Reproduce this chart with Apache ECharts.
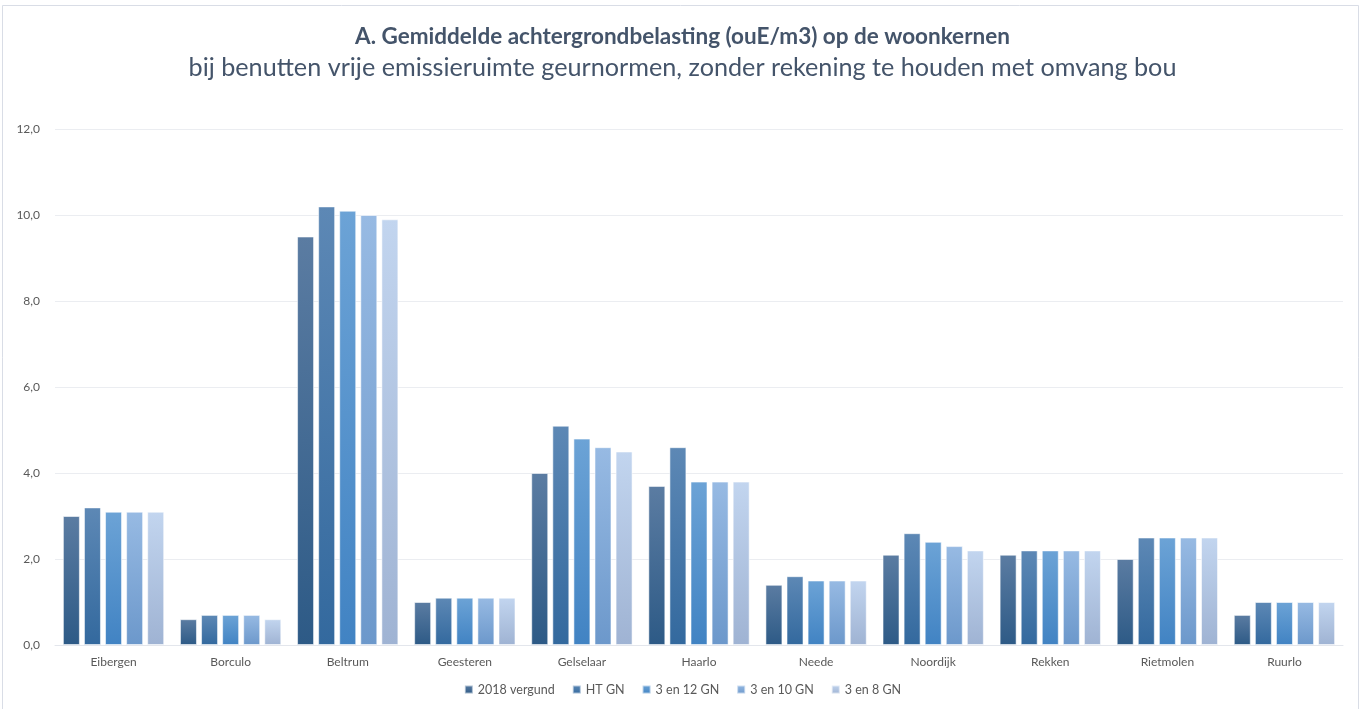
<!DOCTYPE html>
<html>
<head>
<meta charset="utf-8">
<script src="https://cdn.jsdelivr.net/npm/echarts@6/dist/echarts.min.js"></script>
<style>
  html, body { margin: 0; padding: 0; background: #fff; }
  #chart { width: 1365px; height: 709px; }
</style>
</head>
<body>
<div id="chart"></div>
<script>
// kernen en scenario's
var categories = ['Eibergen', 'Borculo', 'Beltrum', 'Geesteren', 'Gelselaar', 'Haarlo', 'Neede', 'Noordijk', 'Rekken', 'Rietmolen', 'Ruurlo']
var seriesNames = ['2018 vergund', 'HT GN', '3 en 12 GN', '3 en 10 GN', '3 en 8 GN']

var vergund2018 = [3.0, 0.6, 9.5, 1.0, 4.0, 3.7, 1.4, 2.1, 2.1, 2.0, 0.7]
var htGN = [3.2, 0.7, 10.2, 1.1, 5.1, 4.6, 1.6, 2.6, 2.2, 2.5, 1.0]
var gn3en12 = [3.1, 0.7, 10.1, 1.1, 4.8, 3.8, 1.5, 2.4, 2.2, 2.5, 1.0]
var gn3en10 = [3.1, 0.7, 10.0, 1.1, 4.6, 3.8, 1.5, 2.3, 2.2, 2.5, 1.0]
var gn3en8 = [3.1, 0.6, 9.9, 1.1, 4.5, 3.8, 1.5, 2.2, 2.2, 2.5, 1.0]

var values = [vergund2018, htGN, gn3en12, gn3en10, gn3en8]

// kleurverloop per reeks: boven licht, onder donker
var gradients = [
  ['#5b7ca2', '#2d5a86'],
  ['#5d88b5', '#33699e'],
  ['#6ca3d6', '#4183c3'],
  ['#97bae3', '#6c98cb'],
  ['#c2d5ef', '#9fb3d3']
]
var legendColors = ['#2e5b87', '#376ea3', '#4a8dcb', '#7fa9dc', '#b5cbe9']

var myEchart = echarts.init(document.getElementById('chart'))

var series = seriesNames.map(function (name, i) {
  return {
    name: name,
    type: 'bar',
    barWidth: 17,
    barGap: '24%',
    itemStyle: {
      color: new echarts.graphic.LinearGradient(0, 0, 0, 1, [
        { offset: 0, color: gradients[i][0] },
        { offset: 1, color: gradients[i][1] }
      ]),
      borderColor: 'rgba(255,255,255,0.55)',
      borderWidth: 1
    },
    data: values[i]
  }
})

myEchart.setOption({
  animation: false,
  backgroundColor: '#fff',
  color: legendColors,
  graphic: [{
    type: 'rect',
    shape: { x: 2.5, y: 5.5, width: 1356, height: 720 },
    style: { fill: 'none', stroke: '#d9dde6', lineWidth: 1 },
    silent: true
  }],
  title: [
    {
      text: 'A. Gemiddelde achtergrondbelasting (ouE/m3) op de woonkernen',
      left: 'center',
      top: 20,
      textStyle: { fontFamily: 'Lato', fontWeight: 'bold', fontSize: 22.5, color: '#44546a' }
    },
    {
      text: 'bij benutten vrije emissieruimte geurnormen, zonder rekening te houden met omvang bou',
      left: 'center',
      top: 50,
      textStyle: { fontFamily: 'Lato', fontWeight: 'normal', fontSize: 25.2, color: '#44546a' }
    }
  ],
  legend: {
    data: seriesNames,
    bottom: 8,
    left: 'center',
    icon: 'rect',
    itemWidth: 8,
    itemHeight: 8,
    itemGap: 17,
    textStyle: { fontFamily: 'Lato', fontSize: 12.5, color: '#595959' }
  },
  grid: {
    left: 55,
    right: 22,
    top: 129,
    bottom: 64
  },
  xAxis: {
    type: 'category',
    data: categories,
    axisLine: { lineStyle: { color: '#e3e6ec' } },
    axisTick: { show: false },
    axisLabel: { fontFamily: 'Lato', fontSize: 12, color: '#595959', margin: 11 }
  },
  yAxis: {
    type: 'value',
    min: 0,
    max: 12,
    interval: 2,
    axisLine: { show: false },
    axisTick: { show: false },
    splitLine: { lineStyle: { color: '#ebedf1' } },
    axisLabel: {
      fontFamily: 'Lato',
      fontSize: 12,
      color: '#595959',
      margin: 15,
      formatter: function (v) { return v.toFixed(1).replace('.', ',') }
    }
  },
  series: series
})
</script>
</body>
</html>
